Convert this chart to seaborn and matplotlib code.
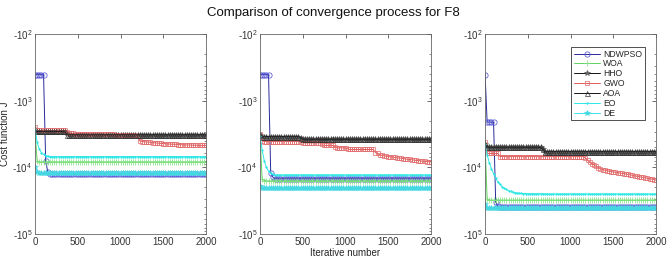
import numpy as np
import pandas as pd
import matplotlib
matplotlib.use("Agg")
import matplotlib.pyplot as plt
from matplotlib.ticker import FixedLocator, FuncFormatter, LogLocator, NullFormatter
import seaborn as sns

ITERS = [1] + list(range(25, 2001, 25))

ALGOS = ['NDWPSO', 'WOA', 'HHO', 'GWO', 'AOA', 'EO', 'DE']

# ---- left panel ----
NDWPSO_1 = [-407, -407, -407, -407, -407, -8000, -11800, -12400, -12400,
            -12400, -12400, -12400, -12400, -12400, -12400, -12400, -12400, -12400,
            -12400, -12400, -12400, -12400, -12400, -12400, -12400, -12400, -12400,
            -12400, -12400, -12400, -12400, -12400, -12400, -12400, -12400, -12400,
            -12400, -12400, -12400, -12400, -12400, -12400, -12400, -12400, -12400,
            -12400, -12400, -12400, -12400, -12400, -12400, -12400, -12400, -12400,
            -12400, -12400, -12400, -12400, -12400, -12400, -12400, -12400, -12400,
            -12400, -12400, -12400, -12400, -12400, -12400, -12400, -12400, -12400,
            -12400, -12400, -12400, -12400, -12400, -12400, -12400, -12400, -12400]
WOA_1 = [-3000, -8000, -8300, -8300, -8300, -8300, -8300, -8300, -8300,
         -8300, -8300, -8300, -8300, -8300, -8300, -8300, -8300, -8300,
         -8300, -8300, -8300, -8300, -8300, -8300, -8300, -8300, -8300,
         -8300, -8300, -8300, -8300, -8300, -8300, -8300, -8300, -8300,
         -8300, -8300, -8300, -8300, -8300, -8300, -8300, -8300, -8300,
         -8300, -8300, -8300, -8300, -8300, -8300, -8300, -8300, -8300,
         -8300, -8300, -8300, -8300, -8300, -8300, -8300, -8300, -8300,
         -8300, -8300, -8300, -8300, -8300, -8300, -8300, -8300, -8300,
         -8300, -8300, -8300, -8300, -8300, -8300, -8300, -8300, -8300]
HHO_1 = [-2700, -2950, -2950, -2950, -2950, -2950, -2950, -2950, -2950,
         -2950, -2950, -2950, -2950, -2950, -2950, -3100, -3300, -3300,
         -3300, -3300, -3300, -3300, -3300, -3300, -3300, -3300, -3300,
         -3300, -3300, -3300, -3300, -3300, -3300, -3300, -3300, -3300,
         -3300, -3300, -3300, -3300, -3300, -3300, -3300, -3300, -3300,
         -3300, -3300, -3300, -3300, -3300, -3300, -3300, -3300, -3300,
         -3300, -3300, -3300, -3300, -3300, -3300, -3300, -3300, -3300,
         -3300, -3300, -3300, -3300, -3300, -3300, -3300, -3300, -3300,
         -3300, -3300, -3300, -3300, -3300, -3300, -3300, -3300, -3300]
GWO_1 = [-2500, -2800, -2800, -2800, -2800, -2800, -2800, -2800, -2800,
         -2800, -2800, -2800, -2800, -2800, -2800, -3000, -3100, -3100,
         -3100, -3110, -3120, -3130, -3140, -3145, -3150, -3155, -3160,
         -3165, -3170, -3175, -3180, -3185, -3190, -3195, -3200, -3205,
         -3210, -3215, -3220, -3225, -3230, -3235, -3240, -3245, -3250,
         -3255, -3260, -3330, -3400, -4000, -4100, -4120, -4150, -4180,
         -4200, -4250, -4300, -4320, -4350, -4380, -4400, -4420, -4450,
         -4470, -4500, -4500, -4520, -4550, -4570, -4600, -4600, -4620,
         -4630, -4640, -4650, -4650, -4660, -4680, -4690, -4700, -4700]
AOA_1 = [-2900, -2900, -2900, -2900, -2900, -2900, -2900, -2900, -2900,
         -2900, -2900, -2900, -2900, -2900, -2900, -3250, -3250, -3250,
         -3250, -3250, -3250, -3250, -3250, -3250, -3250, -3250, -3250,
         -3250, -3250, -3250, -3250, -3250, -3250, -3250, -3250, -3250,
         -3250, -3250, -3250, -3250, -3250, -3250, -3250, -3250, -3250,
         -3250, -3250, -3250, -3250, -3250, -3250, -3250, -3250, -3250,
         -3250, -3250, -3250, -3250, -3250, -3250, -3250, -3250, -3250,
         -3250, -3250, -3250, -3250, -3250, -3250, -3250, -3250, -3250,
         -3250, -3250, -3250, -3250, -3250, -3250, -3250, -3250, -3250]
EO_1 = [-2700, -4200, -5300, -6000, -6400, -6700, -6800, -6900, -6900,
        -6900, -6900, -6900, -6900, -6900, -6900, -6900, -6900, -6900,
        -6900, -6900, -6900, -6900, -6900, -6900, -6900, -6900, -6900,
        -6900, -6900, -6900, -6900, -6900, -6900, -6900, -6900, -6900,
        -6900, -6900, -6900, -6900, -6900, -6900, -6900, -6900, -6900,
        -6900, -6900, -6900, -6900, -6900, -6900, -6900, -6900, -6900,
        -6900, -6900, -6900, -6900, -6900, -6900, -6900, -6900, -6900,
        -6900, -6900, -6900, -6900, -6900, -6900, -6900, -6900, -6900,
        -6900, -6900, -6900, -6900, -6900, -6900, -6900, -6900, -6900]
DE_1 = [-10000, -11800, -12000, -12000, -12000, -12000, -12000, -12000, -12000,
        -12000, -12000, -12000, -12000, -12000, -12000, -12000, -12000, -12000,
        -12000, -12000, -12000, -12000, -12000, -12000, -12000, -12000, -12000,
        -12000, -12000, -12000, -12000, -12000, -12000, -12000, -12000, -12000,
        -12000, -12000, -12000, -12000, -12000, -12000, -12000, -12000, -12000,
        -12000, -12000, -12000, -12000, -12000, -12000, -12000, -12000, -12000,
        -12000, -12000, -12000, -12000, -12000, -12000, -12000, -12000, -12000,
        -12000, -12000, -12000, -12000, -12000, -12000, -12000, -12000, -12000,
        -12000, -12000, -12000, -12000, -12000, -12000, -12000, -12000, -12000]

# ---- middle panel ----
NDWPSO_2 = [-407, -407, -407, -407, -407, -12000, -14000, -14800, -14800,
            -14800, -14800, -14800, -14800, -14800, -14800, -14800, -14800, -14800,
            -14800, -14800, -14800, -14800, -14800, -14800, -14800, -14800, -14800,
            -14800, -14800, -14800, -14800, -14800, -14800, -14800, -14800, -14800,
            -14800, -14800, -14800, -14800, -14800, -14800, -14800, -14800, -14800,
            -14800, -14800, -14800, -14800, -14800, -14800, -14800, -14800, -14800,
            -14800, -14800, -14800, -14800, -14800, -14800, -14800, -14800, -14800,
            -14800, -14800, -14800, -14800, -14800, -14800, -14800, -14800, -14800,
            -14800, -14800, -14800, -14800, -14800, -14800, -14800, -14800, -14800]
WOA_2 = [-3500, -15000, -15800, -16000, -16000, -16000, -16000, -16000, -16000,
         -16000, -16000, -16000, -16000, -16000, -16000, -16000, -16000, -16000,
         -16000, -16000, -16000, -16000, -16000, -16000, -16000, -16000, -16000,
         -16000, -16000, -16000, -16000, -16000, -16000, -16000, -16000, -16000,
         -16000, -16000, -16000, -16000, -16000, -16000, -16000, -16000, -16000,
         -16000, -16000, -16000, -16000, -16000, -16000, -16000, -16000, -16000,
         -16000, -16000, -16000, -16000, -16000, -16000, -16000, -16000, -16000,
         -16000, -16000, -16000, -16000, -16000, -16000, -16000, -16000, -16000,
         -16000, -16000, -16000, -16000, -16000, -16000, -16000, -16000, -16000]
HHO_2 = [-3300, -3450, -3450, -3450, -3450, -3450, -3450, -3450, -3450,
         -3450, -3450, -3450, -3450, -3450, -3450, -3450, -3450, -3450,
         -3450, -3600, -3800, -3800, -3800, -3800, -3800, -3800, -3800,
         -3800, -3800, -3800, -3800, -3800, -3800, -3800, -3800, -3800,
         -3800, -3800, -3800, -3800, -3800, -3800, -3800, -3800, -3800,
         -3800, -3800, -3800, -3800, -3800, -3800, -3800, -3800, -3800,
         -3800, -3800, -3800, -3800, -3800, -3800, -3800, -3800, -3800,
         -3800, -3800, -3800, -3800, -3800, -3800, -3800, -3800, -3800,
         -3800, -3800, -3800, -3800, -3800, -3800, -3800, -3800, -3800]
GWO_2 = [-3200, -4000, -4100, -4100, -4100, -4100, -4100, -4100, -4100,
         -4100, -4100, -4100, -4100, -4100, -4100, -4100, -4100, -4100,
         -4100, -4200, -4300, -4300, -4300, -4300, -4300, -4300, -4300,
         -4300, -4300, -4500, -4700, -4700, -4700, -4700, -4700, -4900,
         -5100, -5100, -5100, -5100, -5100, -5250, -5400, -5400, -5400,
         -5400, -5400, -5400, -5400, -5400, -5400, -5400, -5400, -5400,
         -6000, -6200, -6500, -6600, -6700, -6800, -6900, -6950, -7000,
         -7100, -7200, -7250, -7300, -7400, -7500, -7550, -7600, -7700,
         -7800, -7850, -7900, -8000, -8100, -8150, -8200, -8250, -8300]
AOA_2 = [-3200, -3450, -3450, -3450, -3450, -3450, -3450, -3450, -3450,
         -3450, -3450, -3450, -3450, -3450, -3450, -3450, -3450, -3450,
         -3450, -3600, -3800, -3800, -3800, -3800, -3800, -3800, -3800,
         -3800, -3800, -3800, -3800, -3800, -3800, -3800, -3800, -3800,
         -3800, -3800, -3800, -3800, -3800, -3800, -3800, -3800, -3800,
         -3800, -3800, -3800, -3800, -3800, -3800, -3800, -3800, -3800,
         -3800, -3800, -3800, -3800, -3800, -3800, -3800, -3800, -3800,
         -3800, -3800, -3800, -3800, -3800, -3800, -3800, -3800, -3800,
         -3800, -3800, -3800, -3800, -3800, -3800, -3800, -3800, -3800]
EO_2 = [-3400, -5500, -8000, -10000, -11500, -12300, -12800, -13000, -13000,
        -13000, -13000, -13000, -13000, -13000, -13000, -13000, -13000, -13000,
        -13000, -13000, -13000, -13000, -13000, -13000, -13000, -13000, -13000,
        -13000, -13000, -13000, -13000, -13000, -13000, -13000, -13000, -13000,
        -13000, -13000, -13000, -13000, -13000, -13000, -13000, -13000, -13000,
        -13000, -13000, -13000, -13000, -13000, -13000, -13000, -13000, -13000,
        -13000, -13000, -13000, -13000, -13000, -13000, -13000, -13000, -13000,
        -13000, -13000, -13000, -13000, -13000, -13000, -13000, -13000, -13000,
        -13000, -13000, -13000, -13000, -13000, -13000, -13000, -13000, -13000]
DE_2 = [-19000, -20600, -20600, -20600, -20600, -20600, -20600, -20600, -20600,
        -20600, -20600, -20600, -20600, -20600, -20600, -20600, -20600, -20600,
        -20600, -20600, -20600, -20600, -20600, -20600, -20600, -20600, -20600,
        -20600, -20600, -20600, -20600, -20600, -20600, -20600, -20600, -20600,
        -20600, -20600, -20600, -20600, -20600, -20600, -20600, -20600, -20600,
        -20600, -20600, -20600, -20600, -20600, -20600, -20600, -20600, -20600,
        -20600, -20600, -20600, -20600, -20600, -20600, -20600, -20600, -20600,
        -20600, -20600, -20600, -20600, -20600, -20600, -20600, -20600, -20600,
        -20600, -20600, -20600, -20600, -20600, -20600, -20600, -20600, -20600]

# ---- right panel ----
NDWPSO_3 = [-407, -2100, -2100, -2100, -2100, -33000, -38500, -39800, -39800,
            -39800, -39800, -39800, -39800, -39800, -39800, -39800, -39800, -39800,
            -39800, -39800, -39800, -39800, -39800, -39800, -39800, -39800, -39800,
            -39800, -39800, -39800, -39800, -39800, -39800, -39800, -39800, -39800,
            -39800, -39800, -39800, -39800, -39800, -39800, -39800, -39800, -39800,
            -39800, -39800, -39800, -39800, -39800, -39800, -39800, -39800, -39800,
            -39800, -39800, -39800, -39800, -39800, -39800, -39800, -39800, -39800,
            -39800, -39800, -39800, -39800, -39800, -39800, -39800, -39800, -39800,
            -39800, -39800, -39800, -39800, -39800, -39800, -39800, -39800, -39800]
WOA_3 = [-4500, -30000, -31000, -31000, -31000, -31000, -31000, -31000, -31000,
         -31000, -31000, -31000, -31000, -31000, -31000, -31000, -31000, -31000,
         -31000, -31000, -31000, -31000, -31000, -31000, -31000, -31000, -31000,
         -31000, -31000, -31000, -31000, -31000, -31000, -31000, -31000, -31000,
         -31000, -31000, -31000, -31000, -31000, -31000, -31000, -31000, -31000,
         -31000, -31000, -31000, -31000, -31000, -31000, -31000, -31000, -31000,
         -31000, -31000, -31000, -31000, -31000, -31000, -31000, -31000, -31000,
         -31000, -31000, -31000, -31000, -31000, -31000, -31000, -31000, -31000,
         -31000, -31000, -31000, -31000, -31000, -31000, -31000, -31000, -31000]
HHO_3 = [-4500, -5000, -5000, -5000, -5000, -5000, -5000, -5000, -5000,
         -5000, -5000, -5000, -5000, -5000, -5000, -5000, -5000, -5000,
         -5000, -5000, -5000, -5000, -5000, -5000, -5000, -5000, -5000,
         -5400, -5800, -5800, -5800, -5800, -5800, -5800, -5800, -5800,
         -5800, -5800, -5800, -5800, -5800, -5800, -5800, -5800, -5800,
         -5800, -5800, -5800, -5800, -5800, -5800, -5800, -5800, -5800,
         -5800, -5800, -5800, -5800, -5800, -5800, -5800, -5800, -5800,
         -5800, -5800, -5800, -5800, -5800, -5800, -5800, -5800, -5800,
         -5800, -5800, -5800, -5800, -5800, -5800, -5800, -5800, -5800]
GWO_3 = [-4200, -6200, -6200, -6200, -6200, -6200, -6200, -6900, -6900,
         -6900, -6900, -6900, -6900, -6900, -6900, -6900, -6900, -6900,
         -6900, -6900, -6900, -6900, -6900, -6900, -6900, -6900, -6900,
         -6900, -6900, -6900, -6900, -6900, -6900, -6900, -6900, -6900,
         -6900, -6900, -6900, -6900, -6900, -6900, -6900, -6900, -6900,
         -6900, -6900, -7300, -7800, -8300, -8800, -9200, -9700, -10100,
         -10500, -10800, -11000, -11200, -11400, -11550, -11700, -11850, -12000,
         -12150, -12300, -12450, -12600, -12800, -13000, -13200, -13400, -13600,
         -13800, -14000, -14200, -14400, -14600, -14800, -15000, -15250, -15500]
AOA_3 = [-4400, -5000, -5000, -5000, -5000, -5000, -5000, -5000, -5000,
         -5000, -5000, -5000, -5000, -5000, -5000, -5000, -5000, -5000,
         -5000, -5000, -5000, -5000, -5000, -5000, -5000, -5000, -5000,
         -5400, -5800, -5800, -5800, -5800, -5800, -5800, -5800, -5800,
         -5800, -5800, -5800, -5800, -5800, -5800, -5800, -5800, -5800,
         -5800, -5800, -5800, -5800, -5800, -5800, -5800, -5800, -5800,
         -5800, -5800, -5800, -5800, -5800, -5800, -5800, -5800, -5800,
         -5800, -5800, -5800, -5800, -5800, -5800, -5800, -5800, -5800,
         -5800, -5800, -5800, -5800, -5800, -5800, -5800, -5800, -5800]
EO_3 = [-4500, -6500, -8500, -10500, -12500, -14500, -16500, -18000, -19500,
        -20600, -21500, -22300, -23000, -23500, -24000, -24300, -24500, -24600,
        -24700, -24800, -24900, -24900, -24900, -24900, -24900, -24900, -24900,
        -24900, -25000, -25100, -25100, -25100, -25100, -25100, -25100, -25100,
        -25100, -25100, -25100, -25100, -25100, -25100, -25100, -25100, -25100,
        -25100, -25100, -25100, -25100, -25100, -25100, -25100, -25100, -25100,
        -25100, -25100, -25100, -25100, -25100, -25100, -25100, -25100, -25100,
        -25100, -25100, -25100, -25100, -25100, -25100, -25100, -25100, -25100,
        -25100, -25100, -25100, -25100, -25100, -25100, -25100, -25100, -25100]
DE_3 = [-36000, -41000, -41000, -41000, -41000, -41000, -41000, -41000, -41000,
        -41000, -41000, -41000, -41000, -41000, -41000, -41000, -41000, -41000,
        -41000, -41000, -41000, -41000, -41000, -41000, -41000, -41000, -41000,
        -41000, -41000, -41000, -41000, -41000, -41000, -41000, -41000, -41000,
        -41000, -41000, -41000, -41000, -41000, -41000, -41000, -41000, -41000,
        -41000, -41000, -41000, -41000, -41000, -41000, -41000, -41000, -41000,
        -41000, -41000, -41000, -41000, -41000, -41000, -41000, -41000, -41000,
        -41000, -41000, -41000, -41000, -41000, -41000, -41000, -41000, -41000,
        -41000, -41000, -41000, -41000, -41000, -41000, -41000, -41000, -41000]

PANELS = [
    [NDWPSO_1, WOA_1, HHO_1, GWO_1, AOA_1, EO_1, DE_1],
    [NDWPSO_2, WOA_2, HHO_2, GWO_2, AOA_2, EO_2, DE_2],
    [NDWPSO_3, WOA_3, HHO_3, GWO_3, AOA_3, EO_3, DE_3],
]

# matlab-ish line styles: (line colour, marker, marker colour, filled)
STYLES = {
    'NDWPSO': ('#2a2a9a', 'o', '#4a4ad0', False),
    'WOA': ('#5fd35f', '+', '#7be07b', False),
    'HHO': ('#111111', '*', '#666666', True),
    'GWO': ('#e05a5a', 's', '#e06868', False),
    'AOA': ('#111111', '^', '#333333', False),
    'EO': ('#2ee6e6', '.', '#2ee6e6', True),
    'DE': ('#3fe3ea', '*', '#45d8e2', True),
}
MSIZE = {'o': 3.8, '+': 3.8, '*': 3.8, 's': 3.4, '^': 3.6, '.': 2.2}

sns.set_theme(style="white")
plt.rcParams['font.family'] = ['Liberation Sans', 'DejaVu Sans']
plt.rcParams['mathtext.default'] = 'regular'

W, H = 669, 263
fig = plt.figure(figsize=(W / 100, H / 100), dpi=100)
lefts = [35, 260, 485]
axes = []
for k, left in enumerate(lefts):
    ax = fig.add_axes([left / W, 29 / H, 171 / W, 200 / H])
    axes.append(ax)
    for name, vals in zip(ALGOS, PANELS[k]):
        lc, mk, mc, filled = STYLES[name]
        df = pd.DataFrame({'iter': ITERS, 'cost': np.abs(vals)})
        sns.lineplot(data=df, x='iter', y='cost', ax=ax, color=lc, lw=0.7,
                     marker=mk, ms=MSIZE[mk], mec=mc,
                     mfc=mc if filled else 'none', mew=0.5,
                     label=name, legend=False)
    ax.set_yscale('log')
    ax.set_ylim(1e5, 1e2)
    ax.set_xlim(0, 2000)
    ax.set_xticks([0, 500, 1000, 1500, 2000])
    ax.yaxis.set_major_locator(FixedLocator([1e2, 1e3, 1e4, 1e5]))
    ax.yaxis.set_major_formatter(FuncFormatter(
        lambda v, _: '-$10^{%d}$' % int(round(np.log10(v)))))
    ax.yaxis.set_minor_locator(LogLocator(base=10, subs=np.arange(2, 10)))
    ax.yaxis.set_minor_formatter(NullFormatter())
    ax.tick_params(which='both', direction='in', top=True, right=True,
                   labelsize=7, colors='#333333', pad=2)
    ax.tick_params(which='major', length=3, width=0.5)
    ax.tick_params(which='minor', length=1.6, width=0.4)
    for sp in ax.spines.values():
        sp.set_color('#666666')
        sp.set_linewidth(0.6)
    ax.set_xlabel('')
    ax.set_ylabel('')

axes[0].set_ylabel('Cost function J', fontsize=7, color='#262626', labelpad=2)
axes[1].set_xlabel('Iterative number', fontsize=7, color='#262626', labelpad=1)

leg = axes[2].legend(loc='upper right', bbox_to_anchor=(0.935, 0.935),
                     fontsize=6.2, frameon=True, fancybox=False, framealpha=1,
                     edgecolor='#333333', handlelength=3.0, handletextpad=0.4,
                     labelspacing=0.1, borderpad=0.3, borderaxespad=0)
leg.get_frame().set_linewidth(0.6)

fig.text(0.498, 0.952, 'Comparison of convergence process for F8',
         ha='center', va='center', fontsize=9.5, color='#111111')

fig.savefig('out.png', dpi=100)
